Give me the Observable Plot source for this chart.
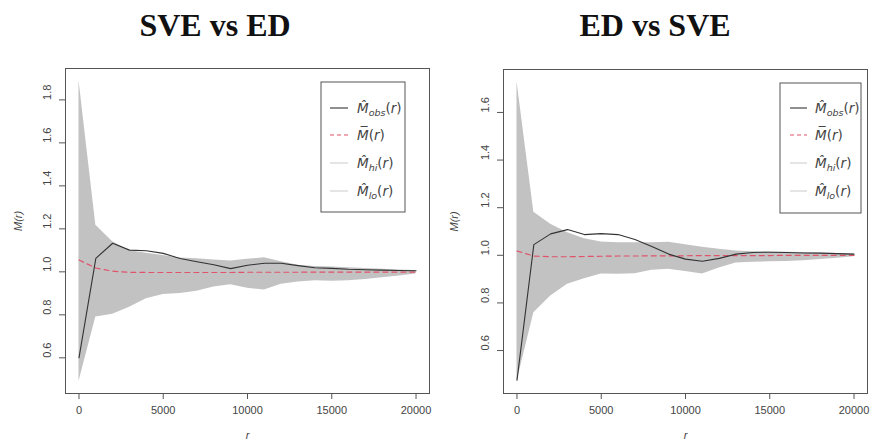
<!DOCTYPE html>
<html><head><meta charset="utf-8">
<script src="https://cdn.jsdelivr.net/npm/d3@7"></script>
<script src="https://cdn.jsdelivr.net/npm/@observablehq/plot@0.6"></script>
<style>
body{margin:0;background:#fff;width:871px;height:446px;position:relative;overflow:hidden;font-family:"Liberation Sans",Arial,sans-serif}
.title{position:absolute;font-family:"Liberation Serif","Times New Roman",serif;font-weight:bold;font-size:32px;line-height:32px;text-align:center;color:#111;width:300px;white-space:nowrap}
.panel{position:absolute;top:50px}
</style></head><body>
<div class="title" style="left:65px;top:9px">SVE vs ED</div>
<div class="title" style="left:505px;top:9px">ED vs SVE</div>
<div class="panel" id="p1" style="left:0px"></div>
<div class="panel" id="p2" style="left:436px"></div>
<script>
const r = [0,1000,2000,3000,4000,5000,6000,7000,8000,9000,10000,11000,12000,13000,14000,15000,16000,17000,18000,19000,20000];
const xTicks = [0,5000,10000,15000,20000];

// SVE vs ED
const obsL  = [0.600,1.063,1.133,1.101,1.098,1.086,1.062,1.047,1.033,1.015,1.031,1.040,1.040,1.029,1.019,1.016,1.012,1.010,1.008,1.006,1.005];
const hiL   = [1.890,1.217,1.140,1.098,1.087,1.076,1.064,1.061,1.055,1.050,1.058,1.065,1.047,1.031,1.025,1.022,1.019,1.016,1.012,1.009,1.006];
const loL   = [0.490,0.790,0.803,0.835,0.875,0.895,0.899,0.910,0.929,0.940,0.924,0.915,0.942,0.953,0.958,0.956,0.958,0.964,0.972,0.981,0.990];
const meanL = [1.055,1.018,1.003,0.998,0.997,0.997,0.997,0.997,0.997,0.997,0.998,0.998,0.998,0.998,0.999,0.999,0.999,0.999,0.999,0.999,0.999];
const yTicksL = [0.6,0.8,1.0,1.2,1.4,1.6,1.8];

// ED vs SVE
const obsR  = [0.475,1.045,1.090,1.108,1.087,1.091,1.087,1.066,1.037,1.005,0.984,0.975,0.987,1.005,1.012,1.013,1.012,1.010,1.009,1.007,1.005];
const hiR   = [1.730,1.181,1.130,1.095,1.070,1.056,1.053,1.053,1.053,1.055,1.044,1.034,1.025,1.018,1.015,1.014,1.013,1.012,1.010,1.008,1.006];
const loR   = [0.470,0.759,0.829,0.878,0.902,0.922,0.920,0.923,0.937,0.941,0.932,0.921,0.947,0.968,0.971,0.973,0.974,0.977,0.982,0.988,0.994];
const meanR = [1.018,0.997,0.994,0.994,0.995,0.996,0.997,0.997,0.998,0.998,0.998,0.999,0.999,0.999,0.999,0.999,1.000,1.000,1.000,1.000,1.000];
const yTicksR = [0.6,0.8,1.0,1.2,1.4,1.6];

const legendItems = [
  {sub:"obs", hat:true, stroke:"#333", dash:null},
  {sub:null, hat:false, stroke:"#df536b", dash:"4,3"},
  {sub:"hi", hat:true, stroke:"#cfcfcf", dash:null},
  {sub:"lo", hat:true, stroke:"#cfcfcf", dash:null}
];

function makePanel(el, obs, hi, lo, mean, yTicks, m, leg) {
  const data = r.map((d, i) => ({r: d, obs: obs[i], hi: hi[i], lo: lo[i], mean: mean[i]}));
  const ymin = Math.min(...lo, ...obs), ymax = Math.max(...hi, ...obs);
  const pad = (ymax - ymin) * 0.04, xpad = 20000 * 0.04;
  const chart = Plot.plot({
    width: 435, height: 396,
    marginLeft: m[0], marginRight: m[1], marginTop: m[2], marginBottom: m[3],
    style: {fontFamily: "Liberation Sans, Arial, sans-serif", fontSize: "11px", color: "#444", background: "transparent"},
    x: {domain: [-xpad, 20000 + xpad]},
    y: {domain: [ymin - pad, ymax + pad]},
    marks: [
      Plot.areaY(data, {x: "r", y1: "lo", y2: "hi", fill: "#c2c2c2", curve: "linear"}),
      Plot.line(data, {x: "r", y: "mean", stroke: "#df536b", strokeWidth: 1.2, strokeDasharray: "5,4"}),
      Plot.line(data, {x: "r", y: "obs", stroke: "#333", strokeWidth: 1.1}),
      Plot.frame({stroke: "#555", strokeWidth: 1}),
      Plot.axisX({ticks: xTicks, tickSize: 6, tickPadding: 7, stroke: "#555", tickFormat: d => String(d), label: null}),
      Plot.axisY({ticks: yTicks, tickSize: 6, stroke: "#555", tickFormat: () => "", label: null}),
      Plot.text(yTicks, {y: d => d, text: d => d.toFixed(1), frameAnchor: "left", dx: -18, rotate: -90, fill: "#444"}),
      Plot.text(["r"], {text: d => d, frameAnchor: "bottom", dy: 45, fontStyle: "italic", fill: "#444"}),
      Plot.text(["M(r)"], {text: d => d, frameAnchor: "left", dx: -(m[0] - 18), rotate: -90, fontStyle: "italic", fill: "#444"})
    ]
  });
  el.appendChild(chart);
  const svg = d3.select(chart);
  const g = svg.append("g").attr("text-anchor", "start");
  g.append("rect").attr("x", leg.x0).attr("y", leg.y0).attr("width", leg.x1 - leg.x0).attr("height", leg.y1 - leg.y0)
    .attr("fill", "white").attr("stroke", "#555");
  legendItems.forEach((it, i) => {
    const y = leg.rows[i];
    g.append("line").attr("x1", leg.l0).attr("x2", leg.l1).attr("y1", y).attr("y2", y)
      .attr("stroke", it.stroke).attr("stroke-width", 1.1).attr("stroke-dasharray", it.dash);
    const t = g.append("text").attr("x", leg.tx).attr("y", y).attr("dy", "0.35em").attr("text-anchor", "start")
      .attr("font-size", 13.5).attr("fill", "#444").attr("font-family", "DejaVu Sans, Liberation Sans, sans-serif");
    t.append("tspan").attr("font-style", "italic").text(it.hat ? "M\u0302" : "M\u0305");
    if (it.sub) {
      t.append("tspan").attr("font-style", "italic").attr("font-size", 9.5).attr("dy", 3).text(it.sub);
      t.append("tspan").attr("dy", -3).text("(");
    } else {
      t.append("tspan").text("(");
    }
    t.append("tspan").attr("font-style", "italic").text("r");
    t.append("tspan").text(")");
  });
}

makePanel(document.getElementById("p1"), obsL, hiL, loL, meanL, yTicksL, [65, 6, 18, 53],
  {x0: 321, x1: 405, y0: 32, y1: 162, rows: [58, 85, 113, 141], l0: 330, l1: 348, tx: 357});
makePanel(document.getElementById("p2"), obsR, hiR, loR, meanR, yTicksR, [67, 4, 19, 53],
  {x0: 344, x1: 425, y0: 33, y1: 163, rows: [58, 85, 113, 141], l0: 354, l1: 371, tx: 379});
</script>
</body></html>
